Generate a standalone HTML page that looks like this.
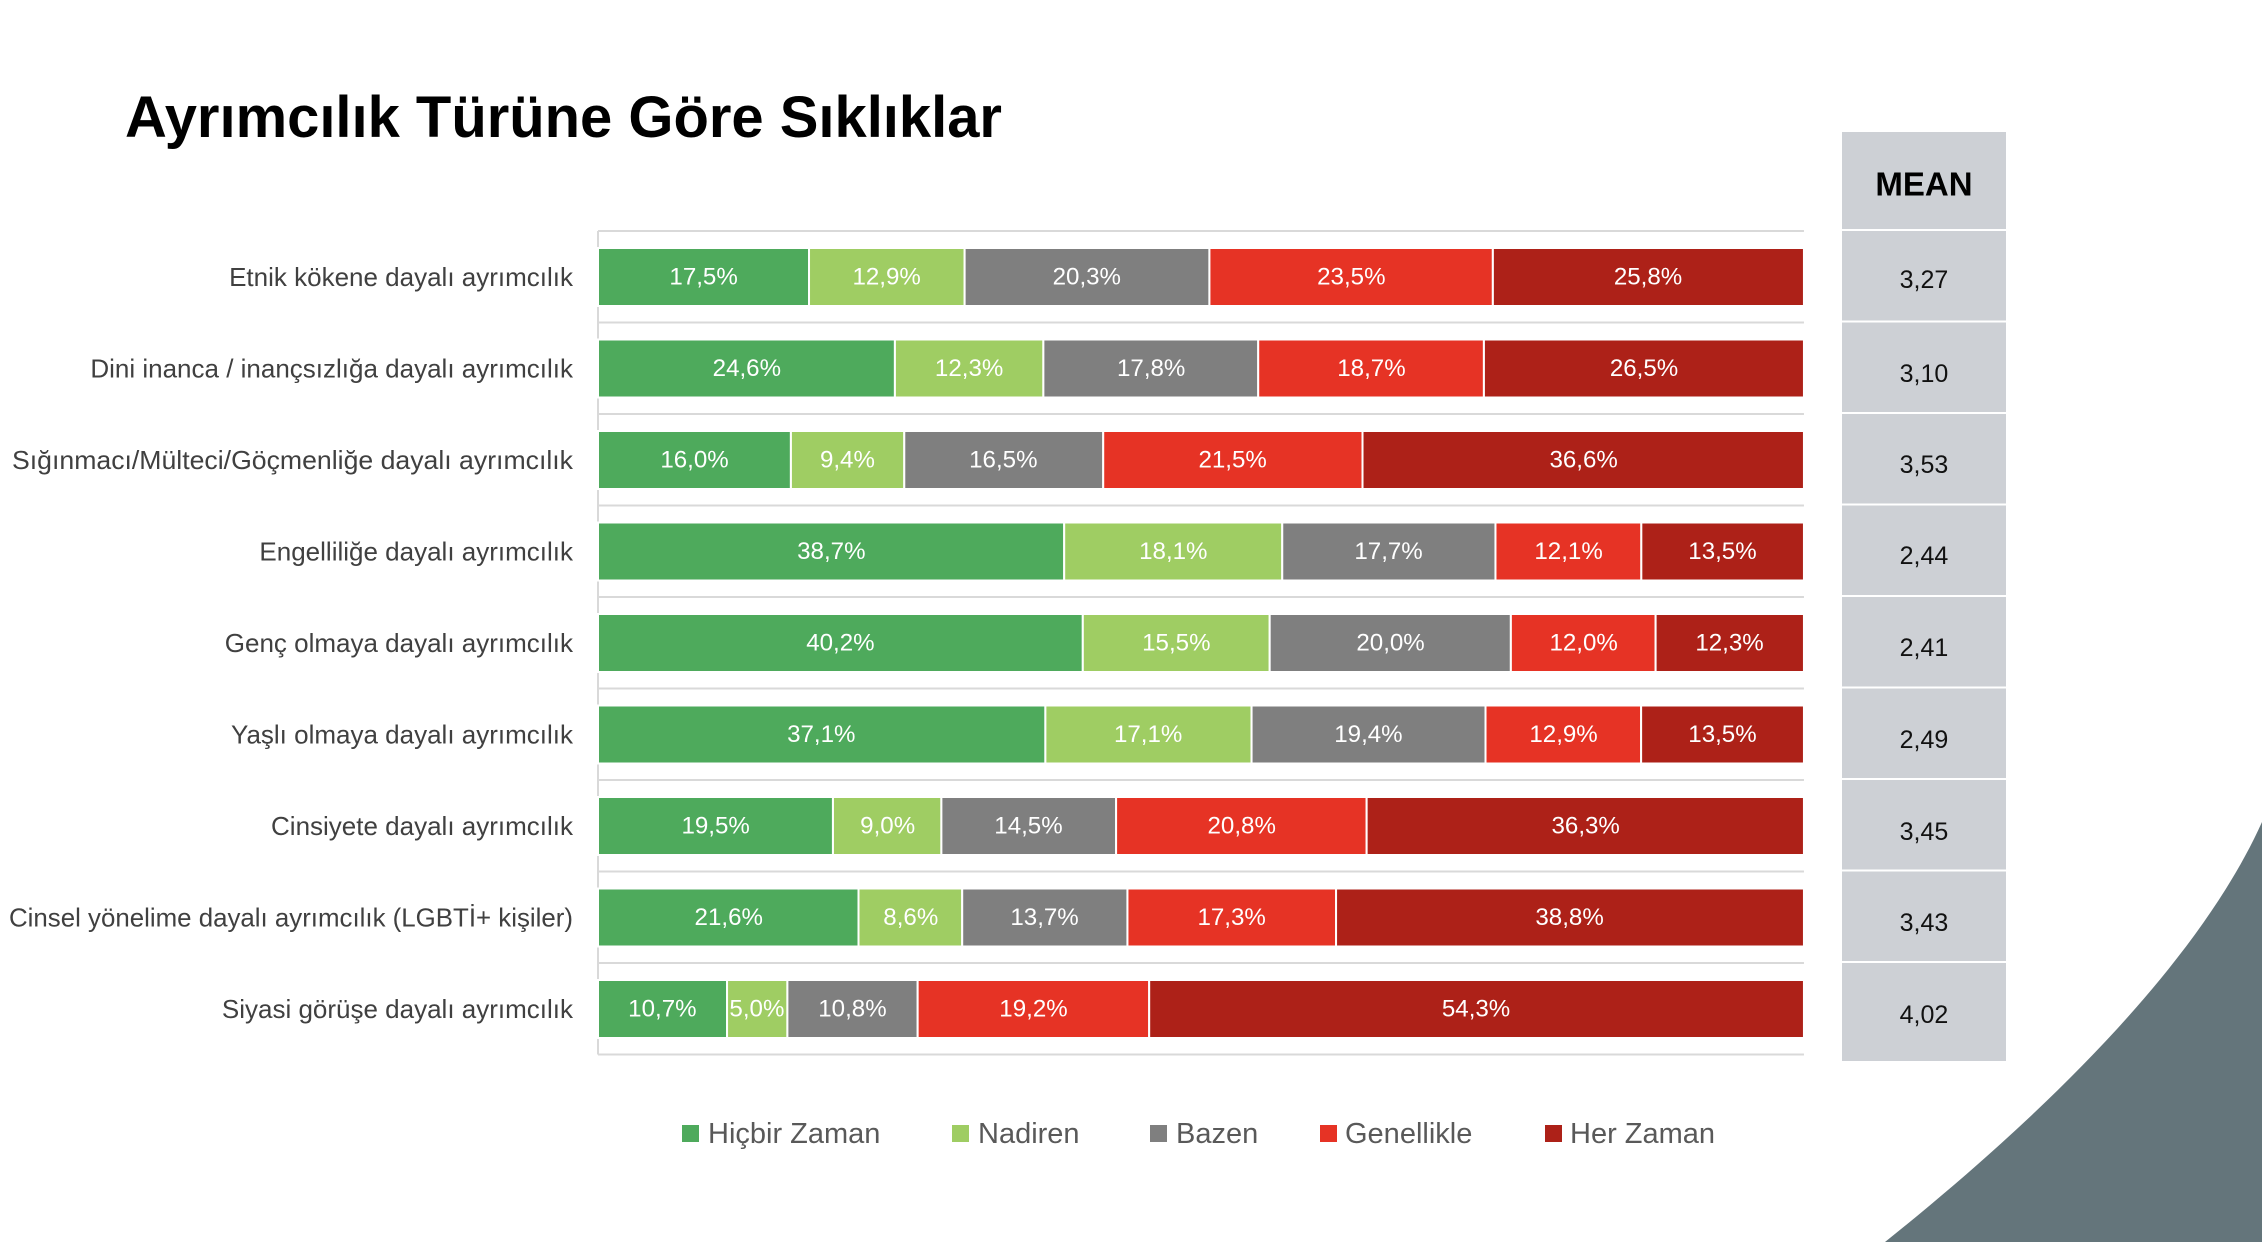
<!DOCTYPE html>
<html><head><meta charset="utf-8"><style>
html,body{margin:0;padding:0;background:#fff;}
svg{display:block;}
text{font-family:"Liberation Sans",sans-serif;}
.v{fill:#fff;font-size:24px;text-anchor:middle;dominant-baseline:central;}
.c{fill:#404040;font-size:26px;text-anchor:end;dominant-baseline:central;}
.m{fill:#111;font-size:25px;text-anchor:middle;dominant-baseline:central;}
.l{fill:#595959;font-size:29px;dominant-baseline:central;}
.s rect{stroke:#fff;stroke-width:2;}
</style></head><body>
<svg width="2262" height="1242" viewBox="0 0 2262 1242" xmlns="http://www.w3.org/2000/svg">
<rect width="2262" height="1242" fill="#fff"/>
<path d="M2262,822 C2200,960 2050,1110 1885,1242 L2262,1242 Z" fill="#64757b"/>
<text x="125" y="137" font-size="58" font-weight="bold" fill="#000" textLength="877" lengthAdjust="spacingAndGlyphs">Ayrımcılık Türüne Göre Sıklıklar</text>

<g transform="translate(598,0) scale(1.0058,1) translate(-598,0)">
<g stroke="#d9d9d9" stroke-width="2">
<line x1="598" y1="231" x2="1797" y2="231"/><line x1="598" y1="322.5" x2="1797" y2="322.5"/>
<line x1="598" y1="414" x2="1797" y2="414"/><line x1="598" y1="505.5" x2="1797" y2="505.5"/>
<line x1="598" y1="597" x2="1797" y2="597"/><line x1="598" y1="688.5" x2="1797" y2="688.5"/>
<line x1="598" y1="780" x2="1797" y2="780"/><line x1="598" y1="871.5" x2="1797" y2="871.5"/>
<line x1="598" y1="963" x2="1797" y2="963"/><line x1="598" y1="1054.5" x2="1797" y2="1054.5"/>
<line x1="598" y1="231" x2="598" y2="1054.5"/>
</g>

<g class="s">
<rect x="598" y="248" width="209.8" height="58" fill="#4eaa5c"/><rect x="807.8" y="248" width="154.7" height="58" fill="#9fcd63"/><rect x="962.5" y="248" width="243.4" height="58" fill="#7f7f7f"/><rect x="1205.9" y="248" width="281.8" height="58" fill="#e63325"/><rect x="1487.7" y="248" width="309.3" height="58" fill="#ad2118"/>
<rect x="598" y="339.5" width="295.2" height="58" fill="#4eaa5c"/><rect x="893.2" y="339.5" width="147.6" height="58" fill="#9fcd63"/><rect x="1040.8" y="339.5" width="213.6" height="58" fill="#7f7f7f"/><rect x="1254.4" y="339.5" width="224.4" height="58" fill="#e63325"/><rect x="1478.8" y="339.5" width="318.2" height="58" fill="#ad2118"/>
<rect x="598" y="431" width="191.8" height="58" fill="#4eaa5c"/><rect x="789.8" y="431" width="112.7" height="58" fill="#9fcd63"/><rect x="902.5" y="431" width="197.8" height="58" fill="#7f7f7f"/><rect x="1100.3" y="431" width="257.8" height="58" fill="#e63325"/><rect x="1358.1" y="431" width="438.9" height="58" fill="#ad2118"/>
<rect x="598" y="522.5" width="463.5" height="58" fill="#4eaa5c"/><rect x="1061.5" y="522.5" width="216.8" height="58" fill="#9fcd63"/><rect x="1278.3" y="522.5" width="212" height="58" fill="#7f7f7f"/><rect x="1490.3" y="522.5" width="145" height="58" fill="#e63325"/><rect x="1635.3" y="522.5" width="161.7" height="58" fill="#ad2118"/>
<rect x="598" y="614" width="482" height="58" fill="#4eaa5c"/><rect x="1080" y="614" width="185.8" height="58" fill="#9fcd63"/><rect x="1265.8" y="614" width="239.8" height="58" fill="#7f7f7f"/><rect x="1505.6" y="614" width="143.9" height="58" fill="#e63325"/><rect x="1649.5" y="614" width="147.5" height="58" fill="#ad2118"/>
<rect x="598" y="705.5" width="444.8" height="58" fill="#4eaa5c"/><rect x="1042.8" y="705.5" width="205" height="58" fill="#9fcd63"/><rect x="1247.8" y="705.5" width="232.6" height="58" fill="#7f7f7f"/><rect x="1480.4" y="705.5" width="154.7" height="58" fill="#e63325"/><rect x="1635.1" y="705.5" width="161.9" height="58" fill="#ad2118"/>
<rect x="598" y="797" width="233.6" height="58" fill="#4eaa5c"/><rect x="831.6" y="797" width="107.8" height="58" fill="#9fcd63"/><rect x="939.4" y="797" width="173.7" height="58" fill="#7f7f7f"/><rect x="1113.1" y="797" width="249.1" height="58" fill="#e63325"/><rect x="1362.2" y="797" width="434.8" height="58" fill="#ad2118"/>
<rect x="598" y="888.5" width="259" height="58" fill="#4eaa5c"/><rect x="857" y="888.5" width="103.1" height="58" fill="#9fcd63"/><rect x="960.1" y="888.5" width="164.3" height="58" fill="#7f7f7f"/><rect x="1124.4" y="888.5" width="207.4" height="58" fill="#e63325"/><rect x="1331.8" y="888.5" width="465.2" height="58" fill="#ad2118"/>
<rect x="598" y="980" width="128.3" height="58" fill="#4eaa5c"/><rect x="726.3" y="980" width="60" height="58" fill="#9fcd63"/><rect x="786.3" y="980" width="129.5" height="58" fill="#7f7f7f"/><rect x="915.8" y="980" width="230.2" height="58" fill="#e63325"/><rect x="1146" y="980" width="651" height="58" fill="#ad2118"/>
</g>

<g class="v">
<text x="703" y="277">17,5%</text><text x="885" y="277">12,9%</text><text x="1084" y="277">20,3%</text><text x="1347" y="277">23,5%</text><text x="1642" y="277">25,8%</text>
<text x="746" y="368.5">24,6%</text><text x="967" y="368.5">12,3%</text><text x="1148" y="368.5">17,8%</text><text x="1367" y="368.5">18,7%</text><text x="1638" y="368.5">26,5%</text>
<text x="694" y="460">16,0%</text><text x="846" y="460">9,4%</text><text x="1001" y="460">16,5%</text><text x="1229" y="460">21,5%</text><text x="1578" y="460">36,6%</text>
<text x="830" y="551.5">38,7%</text><text x="1170" y="551.5">18,1%</text><text x="1384" y="551.5">17,7%</text><text x="1563" y="551.5">12,1%</text><text x="1716" y="551.5">13,5%</text>
<text x="839" y="643">40,2%</text><text x="1173" y="643">15,5%</text><text x="1386" y="643">20,0%</text><text x="1578" y="643">12,0%</text><text x="1723" y="643">12,3%</text>
<text x="820" y="734.5">37,1%</text><text x="1145" y="734.5">17,1%</text><text x="1364" y="734.5">19,4%</text><text x="1558" y="734.5">12,9%</text><text x="1716" y="734.5">13,5%</text>
<text x="715" y="826">19,5%</text><text x="886" y="826">9,0%</text><text x="1026" y="826">14,5%</text><text x="1238" y="826">20,8%</text><text x="1580" y="826">36,3%</text>
<text x="728" y="917.5">21,6%</text><text x="909" y="917.5">8,6%</text><text x="1042" y="917.5">13,7%</text><text x="1228" y="917.5">17,3%</text><text x="1564" y="917.5">38,8%</text>
<text x="662" y="1009">10,7%</text><text x="756" y="1009">5,0%</text><text x="851" y="1009">10,8%</text><text x="1031" y="1009">19,2%</text><text x="1471" y="1009">54,3%</text>
</g>
</g>

<g class="c">
<text x="573" y="277">Etnik kökene dayalı ayrımcılık</text>
<text x="573" y="368.5">Dini inanca / inançsızlığa dayalı ayrımcılık</text>
<text x="573" y="460" textLength="561" lengthAdjust="spacingAndGlyphs">Sığınmacı/Mülteci/Göçmenliğe dayalı ayrımcılık</text>
<text x="573" y="551.5">Engelliliğe dayalı ayrımcılık</text>
<text x="573" y="643">Genç olmaya dayalı ayrımcılık</text>
<text x="573" y="734.5">Yaşlı olmaya dayalı ayrımcılık</text>
<text x="573" y="826">Cinsiyete dayalı ayrımcılık</text>
<text x="573" y="917.5" textLength="564" lengthAdjust="spacingAndGlyphs">Cinsel yönelime dayalı ayrımcılık (LGBTİ+ kişiler)</text>
<text x="573" y="1009">Siyasi görüşe dayalı ayrımcılık</text>
</g>

<g fill="#cdd0d5">
<rect x="1842" y="132" width="164" height="97"/>
<rect x="1842" y="231" width="164" height="89.5"/><rect x="1842" y="322.5" width="164" height="89.5"/>
<rect x="1842" y="414" width="164" height="89.5"/><rect x="1842" y="505.5" width="164" height="89.5"/>
<rect x="1842" y="597" width="164" height="89.5"/><rect x="1842" y="688.5" width="164" height="89.5"/>
<rect x="1842" y="780" width="164" height="89.5"/><rect x="1842" y="871.5" width="164" height="89.5"/>
<rect x="1842" y="963" width="164" height="98"/>
</g>
<text x="1924" y="184" font-size="33" font-weight="bold" text-anchor="middle" dominant-baseline="central" fill="#000">MEAN</text>
<g class="m">
<text x="1924" y="280">3,27</text><text x="1924" y="374">3,10</text><text x="1924" y="465">3,53</text>
<text x="1924" y="556">2,44</text><text x="1924" y="648">2,41</text><text x="1924" y="740">2,49</text>
<text x="1924" y="832">3,45</text><text x="1924" y="923">3,43</text><text x="1924" y="1015">4,02</text>
</g>

<rect x="682" y="1125" width="17" height="17" fill="#4eaa5c"/><text class="l" x="708" y="1134">Hiçbir Zaman</text>
<rect x="952" y="1125" width="17" height="17" fill="#9fcd63"/><text class="l" x="978" y="1134">Nadiren</text>
<rect x="1150" y="1125" width="17" height="17" fill="#7f7f7f"/><text class="l" x="1176" y="1134">Bazen</text>
<rect x="1320" y="1125" width="17" height="17" fill="#e63325"/><text class="l" x="1345" y="1134">Genellikle</text>
<rect x="1545" y="1125" width="17" height="17" fill="#ad2118"/><text class="l" x="1570" y="1134">Her Zaman</text>
</svg>
</body></html>
